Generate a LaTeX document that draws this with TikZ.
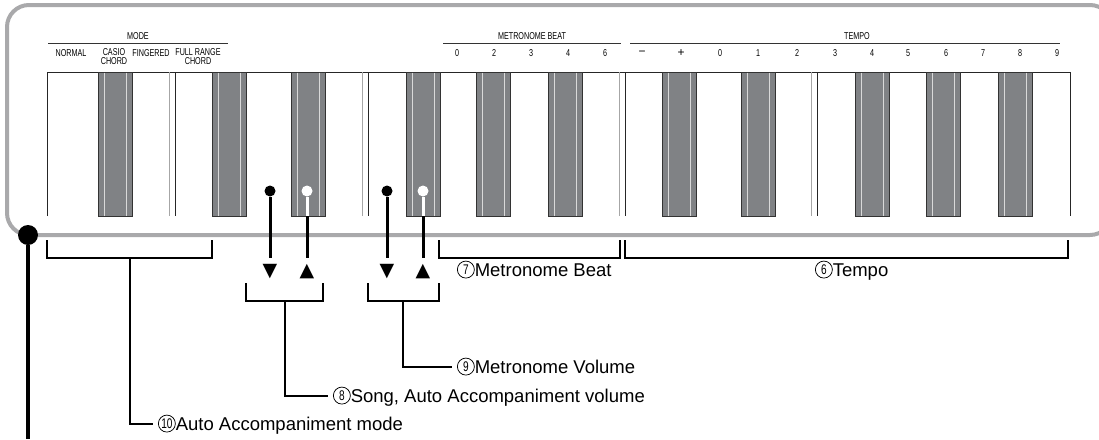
\documentclass[tikz,border=0pt]{standalone}
\usepackage{fontspec}
\setmainfont{Liberation Sans}
\newfontfamily\narrowfont[FakeStretch=0.72]{Liberation Sans}
\newfontfamily\symfont{DejaVu Sans}
\newcommand\circnum[1]{\tikz[baseline={([yshift=-2.2pt]n.base)}]
	\node[circle, draw, line width=0.75pt, inner sep=0pt, outer sep=0pt, minimum size=17pt,
		anchor=center, text height=, text depth=, font=\narrowfont\fontsize{14}{14}\selectfont] (n) {#1};}
\newcommand\wide[1]{{\normalfont\fontsize{12}{12}\selectfont#1}}

\definecolor{panelgray}{HTML}{A9A9AB}
\definecolor{keygray}{HTML}{808285}

\tikzset{
	panel/.style={panelgray, line width=4pt, rounded corners=22pt},
	keyedge/.style={black!85, line width=1pt},
	blackkey/.style={fill=keygray, draw=black!80, line width=1pt},
	keyshine/.style={white!85!black, line width=0.8pt},
	tag/.style={font=\narrowfont\fontsize{10}{9}\selectfont, inner sep=0pt, align=center},
	rule/.style={black!80, line width=0.9pt},
	callout/.style={font=\fontsize{18.5}{20}\selectfont, inner sep=0pt, outer sep=5pt,
		anchor=west, text height=13.2pt, text depth=0pt},
	bracket/.style={line width=1.2pt},
	lead/.style={line width=3pt},
	dot/.style={circle, fill, inner sep=0pt, minimum size=11pt},
	btnmark/.style={font=\symfont\fontsize{19}{19}\selectfont, inner sep=0pt, outer sep=7pt},
}

\begin{document}
\begin{tikzpicture}[x=1pt,y=-1pt]
	\useasboundingbox (0,0) rectangle (1099,439);
	\begin{scope}
		\clip (0,0) rectangle (1099,439);
		\draw[panel] (7,5) rectangle (1112,235);
	\end{scope}

	% keyboard
	\draw[keyedge] (47,216) -- (47,72) -- (1070,72) -- (1070,216);
	\foreach \x in {175,368,625,817} {
		\draw[black!35, line width=0.8pt] (\x-5.5,72) -- (\x-5.5,216);
		\draw[keyedge] (\x,72) -- (\x,216);
	}
	\foreach \x in {98,212,291,406,476,548,662,741,855,926,998} {
		\draw[blackkey] (\x,72) rectangle ++(34,144);
		\draw[keyshine] (\x+6,72.5) -- ++(0,143) (\x+28,72.5) -- ++(0,143);
	}

	% labels above the keys
	\node[tag] (mode) at (138,36) {MODE};
	\draw[rule] (48,43.5) -- (228,43.5);
	\node[tag] (normal) at (71,53) {NORMAL};
	\node[tag] (casio) at (114,57) {CASIO\\CHORD};
	\node[tag] (fingered) at (151,53) {FINGERED};
	\node[tag] (fullrange) at (198,57) {FULL RANGE\\CHORD};

	\node[tag] (beat) at (532,36) {METRONOME BEAT};
	\draw[rule] (443,43.5) -- (621,43.5);
	\foreach \x/\t [count=\i] in {457/0,494/2,531/3,568/4,605/6}
		\node[tag] (beat\i) at (\x,53) {\t};

	\node[tag] (tempo) at (857,36) {TEMPO};
	\draw[rule] (630,43.5) -- (1060,43.5);
	\foreach \x/\t [count=\i] in {642/\wide{−},681/\wide{+},720/0,758/1,797/2,835/3,872/4,908/5,946/6,983/7,1020/8,1057/9}
		\node[tag] (tempo\i) at (\x,53) {\t};

	% volume buttons
	\node[dot] (down1) at (270,191) {};
	\node[dot, fill=white] (up1) at (307,191) {};
	\node[dot] (down2) at (387,191) {};
	\node[dot, fill=white] (up2) at (423,191) {};
	\coordinate (keyend1) at (307,216);
	\coordinate (keyend2) at (423,216);
	\node[btnmark] (dec1) at (270,272) {▼};
	\node[btnmark] (inc1) at (307,272) {▲};
	\node[btnmark] (dec2) at (387,272) {▼};
	\node[btnmark] (inc2) at (423,272) {▲};
	\draw[lead] (down1) -- (dec1);
	\draw[lead, white] (up1) -- (keyend1);
	\draw[lead] (keyend1) -- (inc1);
	\draw[lead] (down2) -- (dec2);
	\draw[lead, white] (up2) -- (keyend2);
	\draw[lead] (keyend2) -- (inc2);

	% brackets and callouts
	\draw[bracket] (47,240) |- (212,258) -- (212,240);
	\draw[bracket] (439,240) |- (620,258) -- (620,240);
	\draw[bracket] (625,240) |- (1068,258) -- (1068,240);
	\draw[bracket] (246,283) |- (323,301) -- (323,283);
	\draw[bracket] (368,283) |- (439,301) -- (439,283);
	\coordinate (stem10) at (130,258);
	\coordinate (stem8) at (285,301);
	\coordinate (stem9) at (403,301);

	\node[callout] (beatlabel) at (452,270) {\circnum{7}Metronome Beat};
	\node[callout] (tempolabel) at (810,270) {\circnum{6}Tempo};
	\node[callout] (vollabel) at (452,367) {\circnum{9}Metronome Volume};
	\node[callout] (songlabel) at (328,396) {\circnum{8}Song, Auto Accompaniment volume};
	\node[callout] (modelabel) at (153,424) {\circnum{10}Auto Accompaniment mode};
	\draw[bracket] (stem9) |- (vollabel.west);
	\draw[bracket] (stem8) |- (songlabel.west);
	\draw[bracket] (stem10) |- (modelabel.west);

	% pointer to the whole panel
	\node[dot, minimum size=20pt] (panel) at (28,235) {};
	\coordinate (bottom) at (28,439);
	\draw[lead, line width=4pt] (panel) -- (bottom);
\end{tikzpicture}
\end{document}
